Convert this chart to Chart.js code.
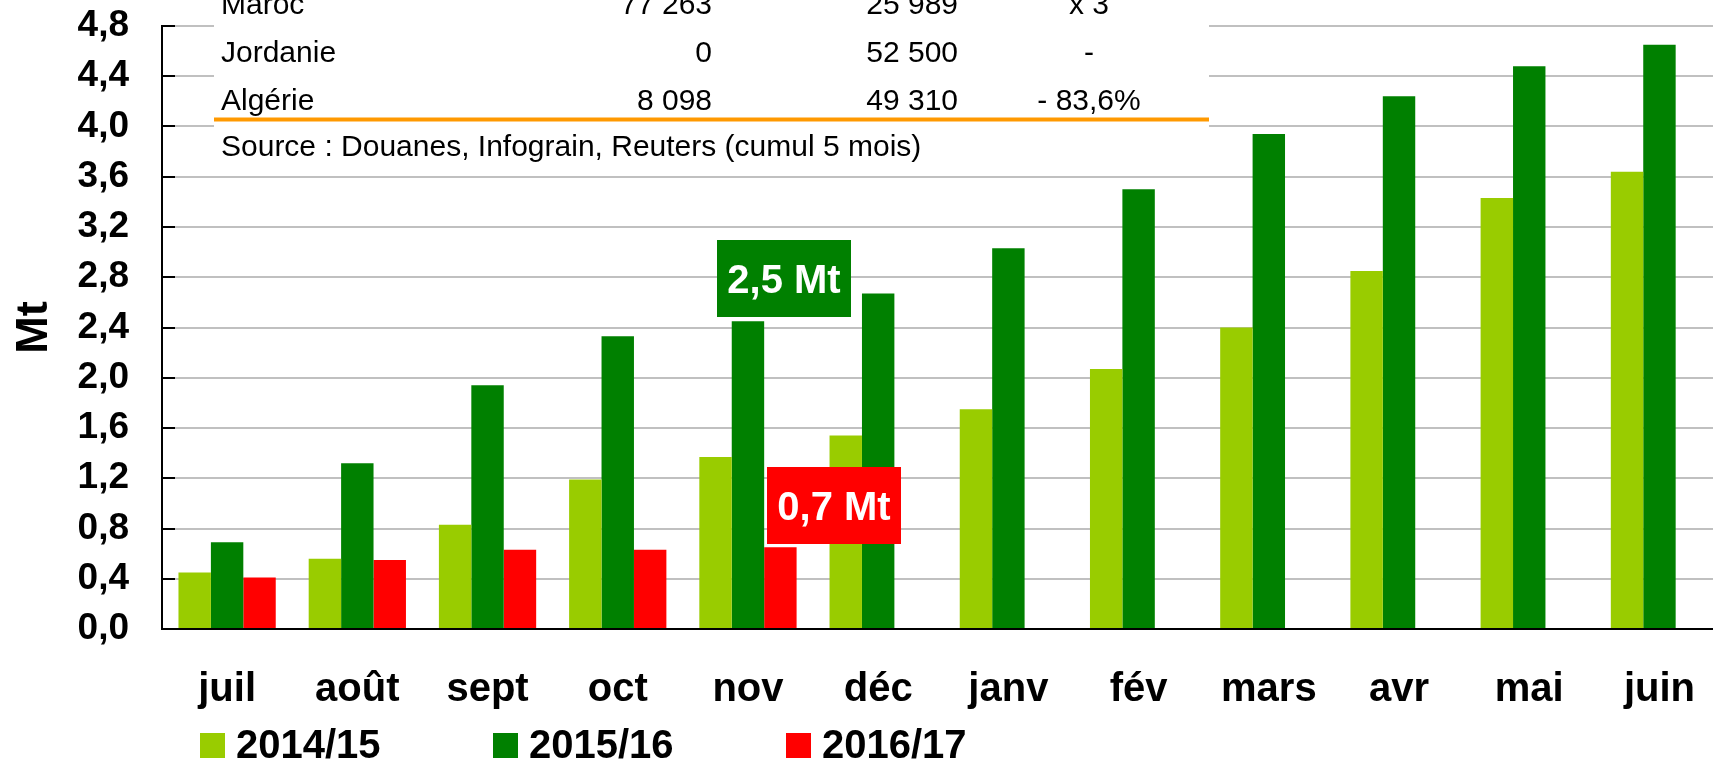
<!DOCTYPE html>
<html>
<head>
<meta charset="utf-8">
<script src="https://cdn.jsdelivr.net/npm/chart.js@4/dist/chart.umd.min.js"></script>
<style>
  html, body { margin: 0; padding: 0; background: #fff; overflow: hidden; }
  #wrap { width: 1713px; height: 760px; overflow: hidden; position: relative; }
  canvas { display: block; }
</style>
</head>
<body>
<div id="wrap"><canvas id="c" width="1732" height="760" style="width:1732px;height:760px"></canvas></div>
<script>
// ---- data ----
const months = ['juil', 'août', 'sept', 'oct', 'nov', 'déc', 'janv', 'fév', 'mars', 'avr', 'mai', 'juin'];
const seriesNames = ['2014/15', '2015/16', '2016/17'];
const s1415 = [0.45, 0.56, 0.83, 1.19, 1.37, 1.54, 1.75, 2.07, 2.40, 2.85, 3.43, 3.64];
const s1516 = [0.69, 1.32, 1.94, 2.33, 2.45, 2.67, 3.03, 3.50, 3.94, 4.24, 4.48, 4.65];
const s1617 = [0.41, 0.55, 0.63, 0.63, 0.65, null, null, null, null, null, null, null];
const seriesColors = ['#99CC00', '#008000', '#FF0000'];
const yTickValues = [0, 0.4, 0.8, 1.2, 1.6, 2.0, 2.4, 2.8, 3.2, 3.6, 4.0, 4.4, 4.8];

// table (inset)
const tableCountries = ['Maroc', 'Jordanie', 'Algérie'];
const tableCol1 = ['77 263', '0', '8 098'];
const tableCol2 = ['25 989', '52 500', '49 310'];
const tableCol3 = ['x 3', '-', '- 83,6%'];
const tableSource = 'Source : Douanes, Infograin, Reuters (cumul 5 mois)';

// callouts
const calloutTexts = ['2,5 Mt', '0,7 Mt'];
const calloutCategory = ['nov', 'nov'];
const calloutValues = [2.79, 0.98];
const calloutColors = ['#008000', '#FF0000'];

const FONT = '"Liberation Sans", Arial, Helvetica, sans-serif';
Chart.defaults.font.family = FONT;
Chart.defaults.color = '#000';

// ---- plugins ----
const insetTable = {
  id: 'insetTable',
  beforeDatasetsDraw(chart) {
    const ctx = chart.ctx;
    ctx.save();
    ctx.fillStyle = '#fff';
    ctx.fillRect(214, 0, 995, 170);
    ctx.fillStyle = '#000';
    ctx.font = '30px ' + FONT;
    ctx.textBaseline = 'alphabetic';
    const baselines = [14, 62, 110];
    for (let i = 0; i < tableCountries.length; i++) {
      const y = baselines[i];
      ctx.textAlign = 'left';  ctx.fillText(tableCountries[i], 221, y);
      ctx.textAlign = 'right'; ctx.fillText(tableCol1[i], 712, y);
      ctx.textAlign = 'right'; ctx.fillText(tableCol2[i], 958, y);
      ctx.textAlign = 'center'; ctx.fillText(tableCol3[i], 1089, y);
    }
    ctx.fillStyle = '#FF9900';
    ctx.fillRect(214, 117.5, 995, 4);
    ctx.fillStyle = '#000';
    ctx.textAlign = 'left';
    ctx.fillText(tableSource, 221, 156);
    ctx.restore();
  }
};

const callouts = {
  id: 'callouts',
  afterDatasetsDraw(chart) {
    const ctx = chart.ctx;
    const xs = chart.scales.x, ys = chart.scales.y;
    const dx = [36, 86];
    ctx.save();
    for (let i = 0; i < calloutTexts.length; i++) {
      const cx = xs.getPixelForValue(months.indexOf(calloutCategory[i])) + dx[i];
      const cy = ys.getPixelForValue(calloutValues[i]);
      const w = 134, h = 77;
      ctx.fillStyle = calloutColors[i];
      ctx.fillRect(Math.round(cx - w / 2), Math.round(cy - h / 2), w, h);
      ctx.fillStyle = '#fff';
      ctx.font = 'bold 40px ' + FONT;
      ctx.textAlign = 'center';
      ctx.textBaseline = 'alphabetic';
      ctx.fillText(calloutTexts[i], cx, cy + 14);
    }
    ctx.restore();
  }
};

const bottomLegend = {
  id: 'bottomLegend',
  afterDraw(chart) {
    const ctx = chart.ctx;
    ctx.save();
    ctx.font = 'bold 40px ' + FONT;
    ctx.textAlign = 'left';
    ctx.textBaseline = 'alphabetic';
    chart.data.datasets.forEach((ds, i) => {
      const x = 200 + i * 293;
      ctx.fillStyle = ds.backgroundColor;
      ctx.fillRect(x, 733, 25, 25);
      ctx.fillStyle = '#000';
      ctx.fillText(ds.label, x + 36, 758);
    });
    ctx.restore();
  }
};

// ---- chart ----
new Chart(document.getElementById('c'), {
  type: 'bar',
  data: {
    labels: months,
    datasets: [
      { label: seriesNames[0], data: s1415, backgroundColor: seriesColors[0] },
      { label: seriesNames[1], data: s1516, backgroundColor: seriesColors[1] },
      { label: seriesNames[2], data: s1617, backgroundColor: seriesColors[2] }
    ]
  },
  options: {
    responsive: false,
    animation: false,
    devicePixelRatio: 1,
    layout: { padding: { top: 26, left: 0, right: 0, bottom: 0 } },
    datasets: { bar: { categoryPercentage: 0.747, barPercentage: 1.0, borderWidth: 0 } },
    plugins: { legend: { display: false }, tooltip: { enabled: false } },
    scales: {
      x: {
        grid: { drawOnChartArea: false, drawTicks: false },
        border: { display: true, color: '#000', width: 2 },
        ticks: { font: { size: 40, weight: 'bold' }, color: '#000', padding: 37, maxRotation: 0, autoSkip: false },
        afterFit(scale) { scale.height = 131; }
      },
      y: {
        min: 0, max: 4.8,
        afterBuildTicks(scale) { scale.ticks = yTickValues.map(v => ({ value: v })); },
        grid: { color: '#c0c0c0', lineWidth: 2, drawTicks: true, tickLength: -13, tickColor: '#000', tickWidth: 2 },
        border: { display: true, color: '#000', width: 2 },
        ticks: {
          font: { size: 37, weight: 'bold' }, color: '#000', padding: 46, autoSkip: false,
          callback: (v) => Number(v).toFixed(1).replace('.', ',')
        },
        title: { display: true, text: 'Mt', font: { size: 45, weight: 'bold' }, color: '#000', padding: { top: 8, bottom: 0 } },
        afterFit(scale) { scale.width = 162; scale.paddingTop = 0; scale.paddingBottom = 0; }
      }
    }
  },
  plugins: [insetTable, callouts, bottomLegend]
});
</script>
</body>
</html>
